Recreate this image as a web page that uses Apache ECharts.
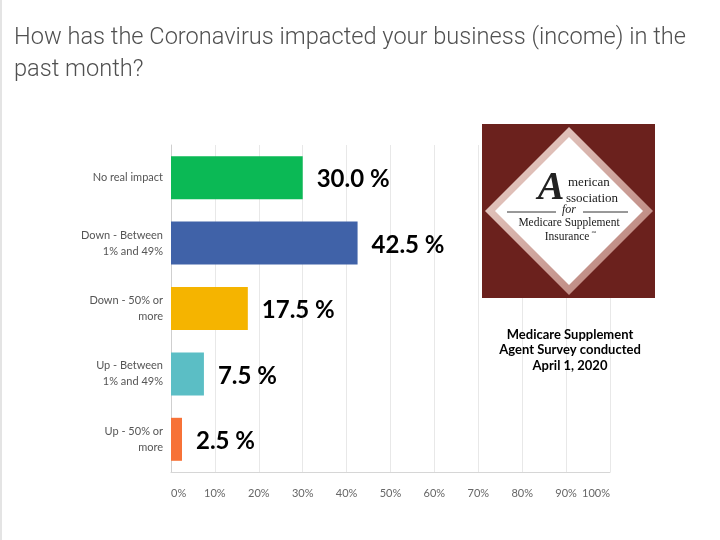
<!DOCTYPE html>
<html>
<head>
<meta charset="utf-8">
<script src="https://cdn.jsdelivr.net/npm/echarts@6/dist/echarts.min.js"></script>
<style>html,body{margin:0;padding:0;background:#fff}#c{width:720px;height:540px}</style>
</head>
<body>
<div id="c"></div>
<script>
var categories = ['No real impact', 'Down - Between\n1% and 49%', 'Down - 50% or\nmore', 'Up - Between\n1% and 49%', 'Up - 50% or\nmore'];
var values = [30.0, 42.5, 17.5, 7.5, 2.5];
var barColors = ['#0bb955', '#4062a8', '#f5b400', '#5bbec5', '#f77237'];
var xTicks = [0, 10, 20, 30, 40, 50, 60, 70, 80, 90, 100];
var titleText = 'How has the Coronavirus impacted your business (income) in the\npast month?';
var captionText = 'Medicare Supplement\nAgent Survey conducted\nApril 1, 2020';

var chart = echarts.init(document.getElementById('c'), null, {renderer: 'canvas'});
var serif = '"Liberation Serif", "DejaVu Serif", serif';
var option = {
  animation: false,
  backgroundColor: '#ffffff',
  grid: {left: 171, right: 110, top: 145, bottom: 68, containLabel: false},
  xAxis: {
    type: 'value', min: xTicks[0], max: xTicks[xTicks.length - 1], interval: xTicks[1] - xTicks[0],
    axisLine: {show: true, lineStyle: {color: '#d6d6d6'}},
    axisTick: {show: false},
    splitLine: {show: true, lineStyle: {color: '#e8e8e8', width: 1}},
    axisLabel: {formatter: '{value}%', color: '#666', fontSize: 11, fontFamily: 'Lato', margin: 16,
      alignMinLabel: 'left', alignMaxLabel: 'right'}
  },
  yAxis: {
    type: 'category', data: categories, inverse: true,
    axisLine: {show: true, lineStyle: {color: '#cfcfcf'}},
    axisTick: {show: false},
    axisLabel: {color: '#555', fontSize: 11, fontFamily: 'Lato', margin: 8, lineHeight: 16, align: 'right'}
  },
  series: [{
    type: 'bar',
    data: values.map(function (v, i) { return {value: v, itemStyle: {color: barColors[i]}}; }),
    barWidth: 43,
    label: {
      show: true, position: 'right', distance: 14,
      formatter: function (p) { return p.value.toFixed(1) + ' %'; },
      color: '#000', fontSize: 24, fontWeight: 'bold', fontFamily: 'Lato', offset: [0, 2]
    }
  }],
  graphic: [
    {type: 'rect', z: 10, shape: {x: 0, y: 0, width: 2, height: 540}, style: {fill: '#e4e4e4'}, silent: true},
    {type: 'text', z: 10, x: 14, y: 22, scaleX: 1.026, style: {text: titleText, fill: '#505050', font: '300 23px Roboto', lineHeight: 32, textVerticalAlign: 'top'}},
    {type: 'rect', z: 10, shape: {x: 482, y: 124, width: 173, height: 174}, style: {fill: '#6b211d'}},
    {type: 'polygon', z: 11, shape: {points: [[569, 127], [653, 211], [569, 295], [485, 211]]},
      style: {fill: new echarts.graphic.LinearGradient(0, 0, 1, 1, [{offset: 0, color: '#efd9d2'}, {offset: 1, color: '#b2766e'}])}},
    {type: 'polygon', z: 12, shape: {points: [[569, 137], [643, 211], [569, 285], [495, 211]]}, style: {fill: '#ffffff'}},
    {type: 'text', z: 13, x: 551, y: 189, style: {text: 'A', font: 'italic bold 40px ' + serif, fill: '#222', textAlign: 'center', textVerticalAlign: 'middle'}},
    {type: 'text', z: 13, x: 568, y: 183, style: {text: 'merican', font: '13px ' + serif, fill: '#1a1a1a', textVerticalAlign: 'middle'}},
    {type: 'text', z: 13, x: 566, y: 199, style: {text: 'ssociation', font: '13px ' + serif, fill: '#1a1a1a', textVerticalAlign: 'middle'}},
    {type: 'line', z: 13, shape: {x1: 507, y1: 212, x2: 556, y2: 212}, style: {stroke: '#333', lineWidth: 1}},
    {type: 'line', z: 13, shape: {x1: 583, y1: 212, x2: 628, y2: 212}, style: {stroke: '#333', lineWidth: 1}},
    {type: 'text', z: 13, x: 569, y: 210, style: {text: 'for', font: 'italic 12px ' + serif, fill: '#1a1a1a', textAlign: 'center', textVerticalAlign: 'middle'}},
    {type: 'text', z: 13, x: 569, y: 223, style: {text: 'Medicare Supplement', font: '11.5px ' + serif, fill: '#1a1a1a', textAlign: 'center', textVerticalAlign: 'middle'}},
    {type: 'text', z: 13, x: 567, y: 237, style: {text: 'Insurance', font: '11.5px ' + serif, fill: '#1a1a1a', textAlign: 'center', textVerticalAlign: 'middle'}},
    {type: 'text', z: 13, x: 591, y: 233, style: {text: '™', font: '5px ' + serif, fill: '#1a1a1a', textVerticalAlign: 'middle'}},
    {type: 'text', z: 10, x: 570, y: 350, style: {text: captionText, font: 'bold 13px Lato', fill: '#000', textAlign: 'center', textVerticalAlign: 'middle', lineHeight: 15.5}}
  ]
};
chart.setOption(option);
</script>
</body>
</html>
